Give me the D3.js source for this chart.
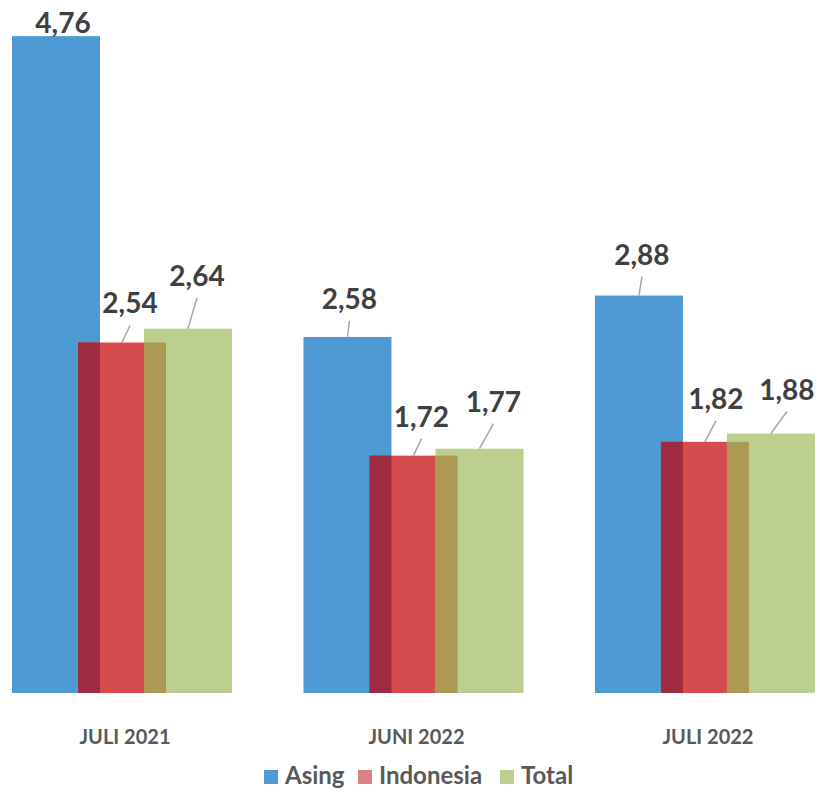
<!DOCTYPE html>
<meta charset="utf-8">
<title>Asing / Indonesia / Total</title>
<style>
  body { margin: 0; background: #fff; }
  text { font-family: Lato, "Open Sans", sans-serif; font-weight: bold; }
</style>
<body>
<script src="https://cdn.jsdelivr.net/npm/d3@7"></script>
<script>

const categories = ["JULI 2021", "JUNI 2022", "JULI 2022"];
const seriesNames = ["Asing", "Indonesia", "Total"];
const asing = [4.76, 2.58, 2.88];
const indonesia = [2.54, 1.72, 1.82];
const total = [2.64, 1.77, 1.88];

// label nudges (dx from bar centre, dy above bar top), as placed in the original
const labelNudge = [
  [[7, 3], [8, 29], [9, 43]],
  [[2, 28], [8, 29], [14, 37]],
  [[3, 31], [11, 33], [16, 34]]
];

const width = 820, height = 792;
const baseY = 693;
const barW = 88, shift = 66;
const colors = ["#4e9bd4", "#d54c4f", "#bccf8e"];
const legendColors = ["#4e9bd4", "#d98282", "#bccf8e"];
const overlapColors = ["#9e2b3f", "#ad9854"];

const svg = d3.select("body").append("svg")
    .attr("width", width)
    .attr("height", height);

const x0 = d3.scaleBand().domain(categories).range([12, 815]).paddingInner(0.245);
const x1 = d3.scaleLinear().domain([0, 2]).range([0, 2 * shift]);
const y = d3.scaleLinear().domain([0, 5]).range([baseY, baseY - 690]);

const values = [asing, indonesia, total];

const bars = [];
categories.forEach((c, gi) => {
  values.forEach((vals, si) => {
    bars.push({ cat: c, gi, si, v: vals[gi], x: x0(c) + x1(si) });
  });
});

svg.selectAll("rect.bar")
    .data(bars)
  .enter().append("rect")
    .attr("class", "bar")
    .attr("x", d => d.x)
    .attr("y", d => y(d.v))
    .attr("width", barW)
    .attr("height", d => baseY - y(d.v))
    .style("fill", d => colors[d.si]);

// overlapping strips between neighbouring bars
const overlaps = [];
categories.forEach((c, gi) => {
  for (let si = 1; si < 3; si++) {
    const v = Math.min(values[si - 1][gi], values[si][gi]);
    overlaps.push({ x: x0(c) + x1(si), w: barW - shift, v, k: si - 1 });
  }
});

svg.selectAll("rect.overlap")
    .data(overlaps)
  .enter().append("rect")
    .attr("x", d => d.x)
    .attr("y", d => y(d.v))
    .attr("width", d => d.w)
    .attr("height", d => baseY - y(d.v))
    .style("fill", d => overlapColors[d.k]);

// data labels with leader lines
bars.forEach(d => {
  const [dx, dy] = labelNudge[d.gi][d.si];
  const cx = d.x + barW / 2;
  const top = y(d.v);
  const lx = cx + dx, ly = top - dy;
  if (dy > 15) {
    svg.append("line")
      .attr("x1", lx).attr("y1", ly + 12)
      .attr("x2", cx).attr("y2", top)
      .style("stroke", "#a6a6a6")
      .style("stroke-width", 1.5);
  }
  svg.append("text")
    .attr("x", lx)
    .attr("y", ly)
    .attr("text-anchor", "middle")
    .style("font-size", "28px")
    .style("fill", "#404040")
    .text(d3.format(".2f")(d.v).replace(".", ","));
});

// category labels
svg.selectAll("text.cat")
    .data(categories)
  .enter().append("text")
    .attr("x", d => x0(d) + x0.bandwidth() / 2 + 3)
    .attr("y", 744)
    .attr("text-anchor", "middle")
    .style("font-size", "20px")
    .style("fill", "#595959")
    .text(d => d);

// legend
const legendX = [264, 358, 500];
const legend = svg.selectAll("g.legend")
    .data(seriesNames)
  .enter().append("g")
    .attr("transform", (d, i) => `translate(${legendX[i]},770)`);

legend.append("rect")
    .attr("width", 14)
    .attr("height", 14)
    .style("fill", (d, i) => legendColors[i]);

legend.append("text")
    .attr("x", 21)
    .attr("y", 14)
    .style("font-size", "24px")
    .style("fill", "#595959")
    .text(d => d);

</script>
</body>
